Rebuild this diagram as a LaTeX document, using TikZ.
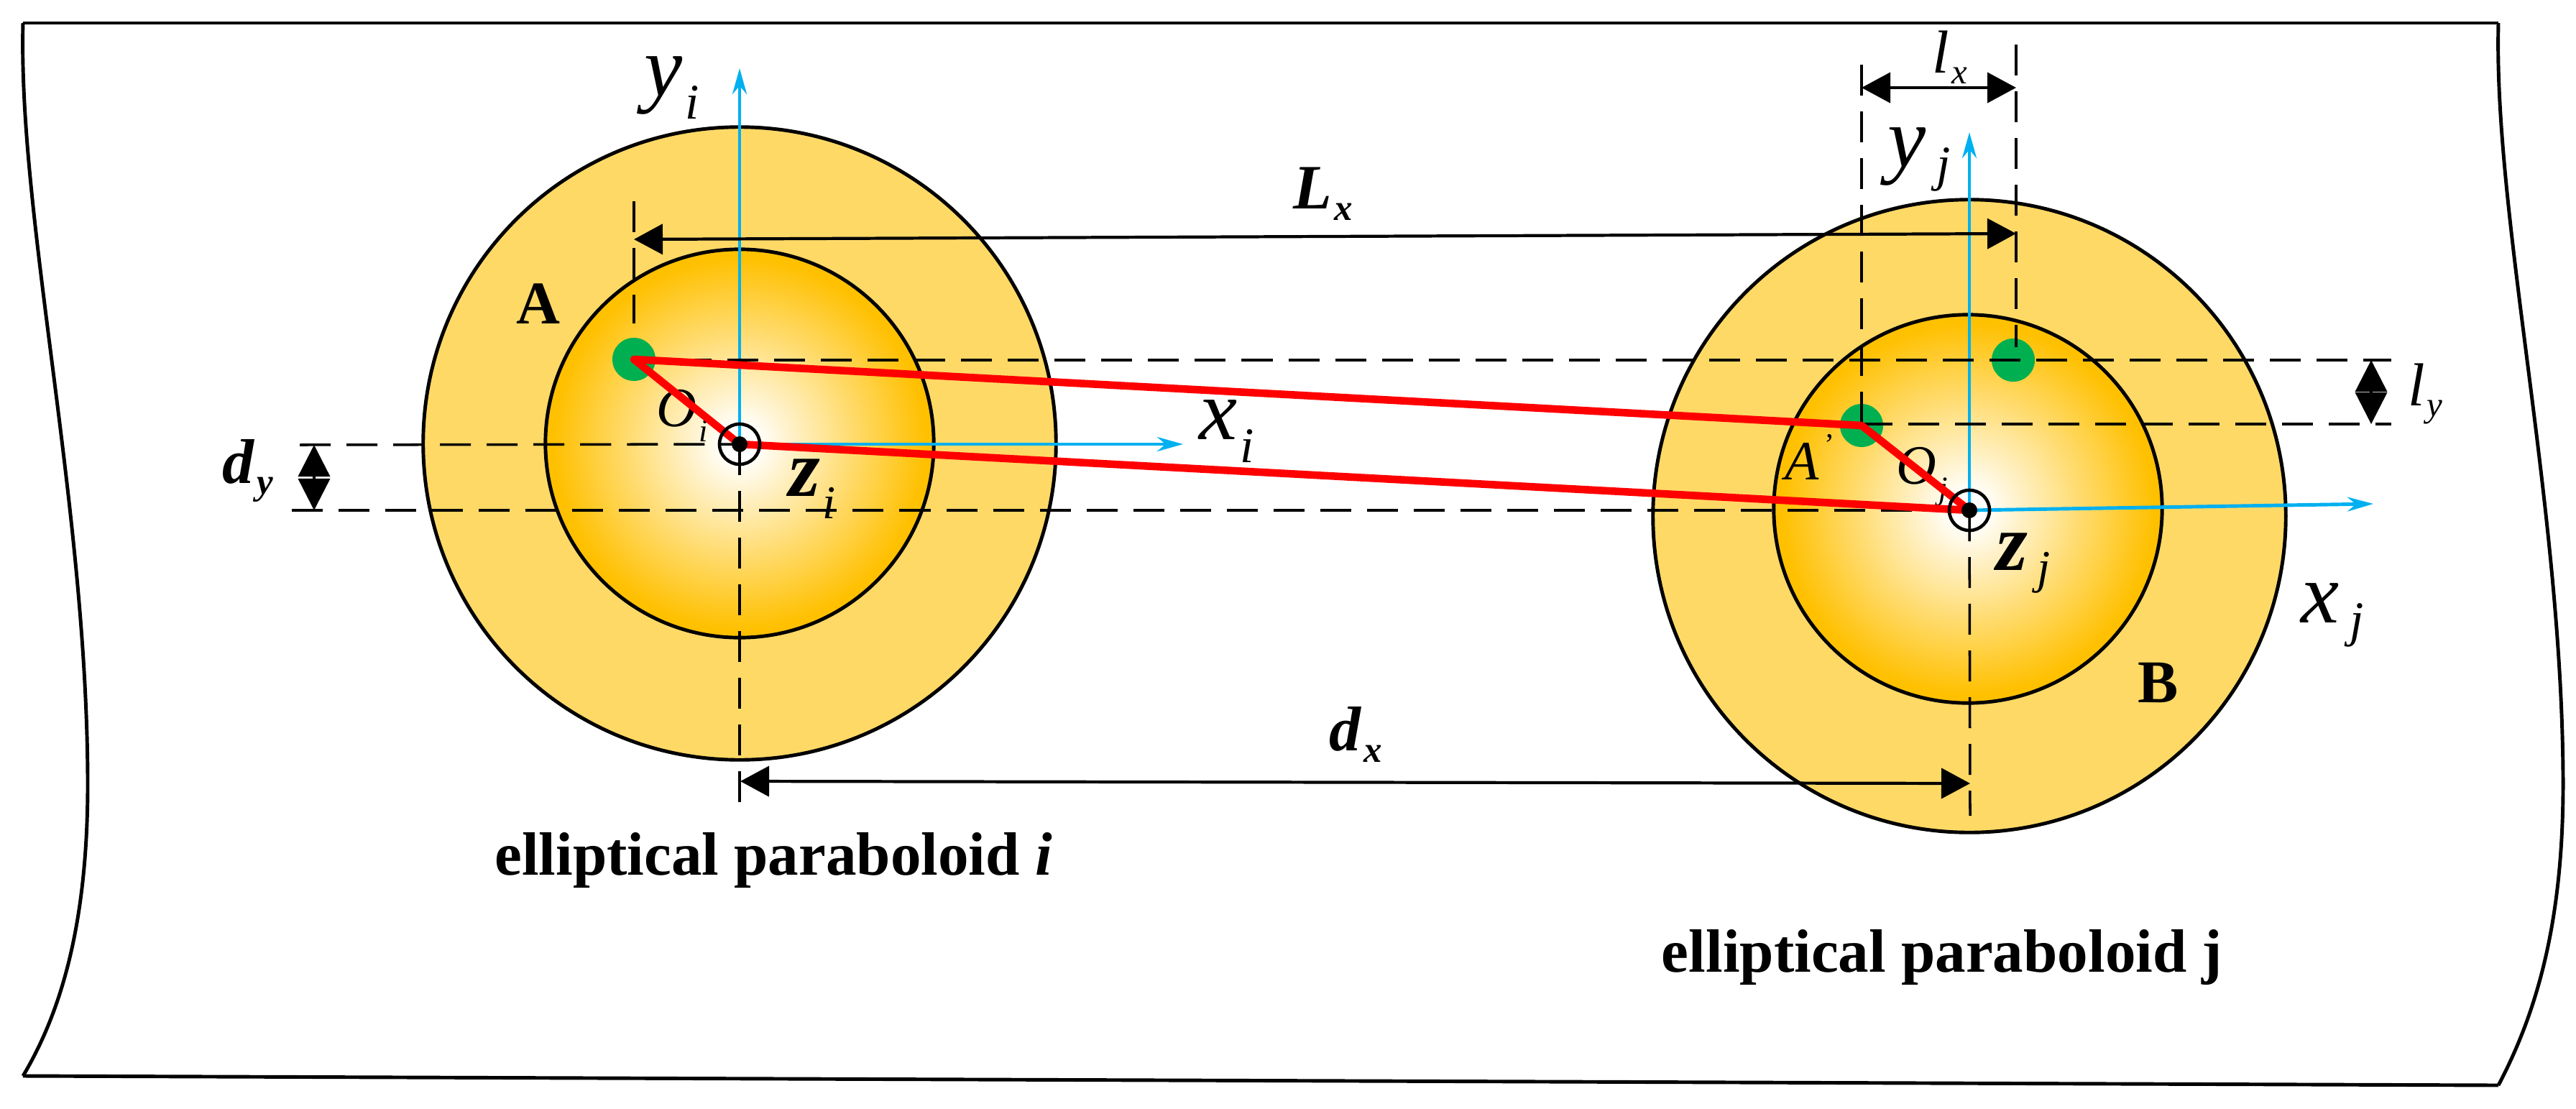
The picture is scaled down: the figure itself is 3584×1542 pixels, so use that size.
\documentclass[tikz,border=0pt]{standalone}
\usepackage{fontspec}
\setmainfont{Liberation Serif}
\usetikzlibrary{positioning, arrows.meta}
\pgfdeclareradialshading{hotspot}{\pgfpoint{0bp}{0bp}}{rgb(0bp)=(1,1,1);rgb(2bp)=(1,1,1);rgb(24bp)=(1,.753,0);rgb(50bp)=(1,.753,0)}
\newcommand{\symsub}[4][.27em]{\fontsize{#4}{#4}\selectfont\textit{#2}\raisebox{-#1}{\fontsize{.58\dimexpr#4pt\relax}{1em}\selectfont\kern.06em\textit{#3}}}
\definecolor{outerfill}{HTML}{FFD966}
\definecolor{spotgreen}{HTML}{00B050}
\definecolor{axisblue}{HTML}{00B0F0}
\begin{document}
\begin{tikzpicture}
	[x=0.01cm, y=-0.01cm,
	border/.style={line width=1.4pt},
	outerdisc/.style={circle, draw=black, line width=1.4pt, fill=outerfill, minimum size=8.8cm, inner sep=0pt},
	innerdisc/.style={circle, draw=black, line width=1.4pt, shade, shading=hotspot, minimum size=5.4cm, inner sep=0pt},
	spot/.style={circle, fill=spotgreen, minimum size=0.6cm, inner sep=0pt},
	origin/.style={circle, draw=black, line width=1.3pt, minimum size=0.56cm, inner sep=0pt},
	axis/.style={axisblue, line width=1.4pt, -{Stealth[length=0.36cm, width=0.2cm]}},
	guide/.style={line width=1pt, dash pattern=on 0.43cm off 0.22cm},
	dim/.style={line width=1.2pt, {Triangle[length=0.4cm, width=0.42cm]}-{Triangle[length=0.4cm, width=0.42cm]}},
	dimup/.style={line width=1pt, {Triangle[length=0.44cm, width=0.44cm]}-{Triangle[length=0.44cm, width=0.44cm]}},
	offset/.style={red, line width=3pt, line join=round},
	symb/.style={inner sep=0pt},
	caption/.style={inner sep=0pt, font=\fontsize{24.2}{25}\selectfont\bfseries}]
	\useasboundingbox (0,0) rectangle (3584,1542);
	% frame
	\draw[border] (32,32) -- (3476,32);
	\draw[border] (32,1497) -- (3476,1510);
	\foreach \shiftx/\lasty in {0/1497, 3444/1510}
		\draw[border, xshift=\shiftx*0.01cm] (32,32) .. controls (25,300) and (120,700) .. (122,1082)
			.. controls (123,1270) and (90,1400) .. (32,\lasty);
	% discs
	\node[outerdisc] (Oi out) at (1029,617) {};
	\node[innerdisc] (Oi in) at (1029,617) {};
	\node[outerdisc] (Oj out) at (2740,718) {};
	\node[innerdisc] (Oj in) at (2738,708) {};
	\coordinate (Oi) at (1029,618);
	\coordinate (Oj) at (2740,710);
	% axes
	\coordinate (yi end) at (1029,95);
	\coordinate (xi end) at (1646,618);
	\coordinate (yj end) at (2740,184);
	\coordinate (xj end) at (3302,701);
	\node[spot] (A) at (882,500) {};
	\node[spot] (Ap) at (2590,592) {};
	\node[spot] (Bp) at (2801,501) {};
	\draw[axis] (Oi) -- (yi end);
	\draw[axis] (Oi) -- (xi end);
	\draw[axis] (Oj) -- (yj end);
	\draw[axis] (Oj) -- (xj end);
	% guides
	\coordinate (g1) at (882,280);
	\coordinate (g2) at (882,450);
	\coordinate (g3) at (1029,1131);
	\coordinate (g4) at (2741,1135);
	\coordinate (g5) at (2590,90);
	\coordinate (g6) at (2590,590);
	\coordinate (g7) at (2805,62);
	\coordinate (g8) at (2805,483);
	\coordinate (h1) at (882,501);
	\coordinate (h2) at (3327,501);
	\coordinate (h3) at (3327,590);
	\coordinate (h4) at (417,619);
	\coordinate (h5) at (406,710);
	\draw[guide] (g1) -- (g2);
	\draw[guide] (Oi) -- (g3);
	\draw[guide] (Oj) -- (g4);
	\draw[guide] (g5) -- (g6);
	\draw[guide] (g7) -- (g8);
	\draw[guide] (h1) -- (h2);
	\draw[guide] (g6) -- (h3);
	\draw[guide] (h4) -- (Oi);
	\draw[guide] (h5) -- (Oj);
	% dimensions
	\coordinate (Lx a) at (882,333);
	\coordinate (Lx b) at (2805,325);
	\coordinate (lx a) at (2590,122);
	\coordinate (lx b) at (2805,122);
	\coordinate (dx a) at (1030,1087);
	\coordinate (dx b) at (2741,1090);
	\coordinate (dy a) at (437,619);
	\coordinate (dy b) at (437,710);
	\coordinate (ly a) at (3299,501);
	\coordinate (ly b) at (3299,590);
	\draw[dim] (Lx a) -- (Lx b);
	\draw[dim] (lx a) -- (lx b);
	\draw[dim] (dx a) -- (dx b);
	\draw[dimup] (dy a) -- (dy b);
	\draw[dimup] (ly a) -- (ly b);
	% labels
	\node[symb] (yi) [above left = 4.96cm and 0.94cm of Oi, anchor=center] {\symsub{y}{i}{34}};
	\node[symb] (xi) [above right = 0.18cm and 6.77cm of Oi, anchor=center] {\symsub{x}{i}{34}};
	\node[symb] (zi) [below right = 0.62cm and 1.01cm of Oi, anchor=center] {\symsub{\bfseries z}{i}{32}};
	\node[symb] (Osi) [above left = 0.40cm and 0.80cm of Oi, anchor=center] {\symsub{O}{i}{22}};
	\node[symb] (Alabel) [above left = 1.95cm and 2.80cm of Oi, anchor=center] {\fontsize{24}{24}\selectfont\bfseries A};
	\node[symb] (dy) [below left = 0.37cm and 6.84cm of Oi, anchor=center] {\bfseries\symsub[.18em]{d}{y}{25}};
	\node[symb] (Lx) [above right = 3.48cm and 8.11cm of Oi, anchor=center] {\bfseries\symsub[.18em]{L}{x}{25}};
	\node[symb] (dx) [below right = 4.04cm and 8.57cm of Oi, anchor=center] {\bfseries\symsub[.18em]{d}{x}{25}};
	\node[caption] (cap i) [below right = 5.79cm and 0.47cm of Oi, anchor=center] {elliptical paraboloid \textit{i}};
	\node[symb] (yj) [above left = 4.88cm and 0.70cm of Oj, anchor=center] {\symsub[.16em]{y}{\kern.15em j}{34}};
	\node[symb] (xj) [below right = 1.46cm and 5.05cm of Oj, anchor=center] {\symsub[.16em]{x}{\kern.15em j}{34}};
	\node[symb] (zj) [below right = 0.74cm and 0.75cm of Oj, anchor=center] {\symsub[.16em]{\bfseries z}{\kern.15em j}{32}};
	\node[symb] (Osj) [above left = 0.47cm and 0.66cm of Oj, anchor=center] {\symsub{O}{j}{22}};
	\node[symb] (Aplabel) [above left = 0.74cm and 2.22cm of Oj, anchor=center] {\fontsize{22}{22}\selectfont\textit{A}\raisebox{.45em}{\fontsize{12}{12}\selectfont\,'}};
	\node[symb] (Blabel) [below right = 2.40cm and 2.62cm of Oj, anchor=center] {\fontsize{24}{24}\selectfont\bfseries B};
	\node[symb] (lx) [above left = 6.30cm and 0.27cm of Oj, anchor=center] {\symsub[.18em]{l}{x}{24}};
	\node[symb] (ly) [above right = 1.62cm and 6.34cm of Oj, anchor=center] {\symsub[.18em]{l}{y}{24}};
	\node[caption] (cap j) [below left = 6.22cm and 0.38cm of Oj, anchor=center] {elliptical paraboloid j};
	% offset lines
	\draw[offset] (Ap.center) -- (A.center) -- (Oi) -- (Oj) -- (Ap.center) -- cycle;
	\node[origin] (ci) at (Oi) {};
	\node[origin] (cj) at (Oj) {};
	\fill (Oi) circle (0.11cm);
	\fill (Oj) circle (0.11cm);
\end{tikzpicture}
\end{document}
